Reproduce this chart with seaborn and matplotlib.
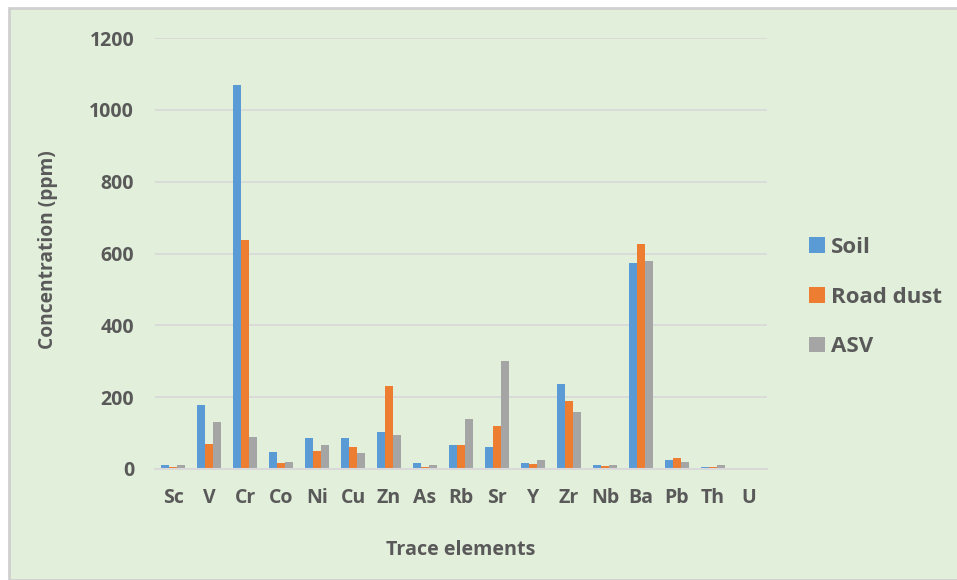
import matplotlib
matplotlib.use("Agg")
import matplotlib.pyplot as plt
import seaborn as sns
import pandas as pd
from matplotlib.patches import Rectangle

elements = ["Sc", "V", "Cr", "Co", "Ni", "Cu", "Zn", "As", "Rb", "Sr",
            "Y", "Zr", "Nb", "Ba", "Pb", "Th", "U"]
soil = [12, 179, 1070, 47, 86, 85, 104, 18, 66, 62,
        17, 238, 12, 574, 26, 6, 3]
road_dust = [6, 69, 638, 18, 49, 61, 232, 6, 66, 120,
             14, 190, 8, 626, 31, 4.5, 2.5]
asv = [12, 130, 90, 19, 68, 45, 95, 12, 140, 301,
       26, 160, 11, 580, 20, 12, 3]
series_names = ["Soil", "Road dust", "ASV"]
colors = ["#5B9BD5", "#ED7D31", "#A5A5A5"]

df = pd.DataFrame({
    "element": elements * 3,
    "value": soil + road_dust + asv,
    "series": [s for s in series_names for _ in elements],
})

sns.set_theme(style="white")
plt.rcParams["font.family"] = ["Open Sans", "DejaVu Sans"]

bg = "#E2EFDA"
text_col = "#595959"
grid_col = "#D9D9D9"

fig = plt.figure(figsize=(9.57, 5.80), dpi=100)
fig.patch.set_facecolor("white")
# green chart area with a light grey frame
frame = Rectangle((9 / 957, 0), 1, 1 - 8 / 580, transform=fig.transFigure,
                  facecolor=bg, edgecolor="#D0D0D0", linewidth=2, zorder=-10)
fig.add_artist(frame)

ax = fig.add_axes([155 / 957, 111 / 580, 612 / 957, 431 / 580])
ax.set_facecolor("none")
ax.set_zorder(1)

sns.barplot(data=df, x="element", y="value", hue="series", palette=colors,
            hue_order=series_names, order=elements, width=0.64, ax=ax,
            linewidth=0, errorbar=None, saturation=1)

ax.set_ylim(0, 1200)
ax.set_xlim(-0.5, len(elements) - 0.5)
ax.set_yticks(range(0, 1201, 200))
ax.yaxis.grid(True, color=grid_col, linewidth=1.3)
ax.set_axisbelow(True)
for side in ["top", "right", "left"]:
    ax.spines[side].set_visible(False)
ax.spines["bottom"].set_color(grid_col)
ax.spines["bottom"].set_linewidth(1.5)

ax.tick_params(axis="y", length=0, pad=15, labelsize=14, labelcolor=text_col)
ax.tick_params(axis="x", length=0, pad=14, labelsize=14, labelcolor=text_col)
for lbl in ax.get_xticklabels() + ax.get_yticklabels():
    lbl.set_fontweight("bold")

ax.set_xlabel("")
ax.set_ylabel("")
fig.text(48 / 957, 1 - 250 / 580, "Concentration (ppm)", rotation=90,
         ha="center", va="center", fontsize=13.8, fontweight="bold", color=text_col)
fig.text(461 / 957, 1 - 550 / 580, "Trace elements", ha="center", va="center",
         fontsize=14.2, fontweight="bold", color=text_col)

handles, labels = ax.get_legend_handles_labels()
ax.legend_.remove()
leg = fig.legend(handles, labels, loc="upper left",
                 bbox_to_anchor=(789 / 957, 1 - 217 / 580), frameon=False,
                 fontsize=16, labelcolor=text_col, handlelength=0.7,
                 handleheight=0.7, handletextpad=0.3, labelspacing=1.29)
for t in leg.get_texts():
    t.set_fontweight("bold")

fig.savefig("out.png", dpi=100, facecolor=fig.get_facecolor())
